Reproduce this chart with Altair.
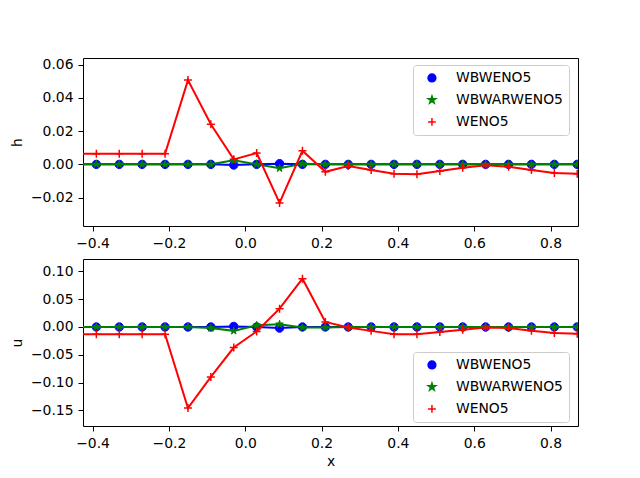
import altair as alt
import pandas as pd

# ---- data ----
x = [-0.45, -0.39, -0.33, -0.27, -0.21, -0.15, -0.09, -0.03, 0.03, 0.09, 0.15, 0.21,
     0.27, 0.33, 0.39, 0.45, 0.51, 0.57, 0.63, 0.69, 0.75, 0.81, 0.87]

series = ["WBWENO5", "WBWARWENO5", "WENO5"]
line_colors = ["blue", "green", "red"]

h_wb = [0, 0, 0, 0, 0, 0, 0, -0.0004, 0, 0.0004, 0, 0,
        0, 0, 0, 0, 0, 0, 0, 0, 0, 0, 0]
h_wbar = [0, 0, 0, 0, 0, 0, 0, 0.0024, 0, -0.0024, 0.0003, 0,
          0, 0, 0, 0, 0, 0, 0, 0, 0, 0, 0]
h_weno = [0.0064, 0.0064, 0.0064, 0.0064, 0.0064, 0.0507, 0.0241, 0.003, 0.0068, -0.0232, 0.0082, -0.0045,
          -0.001, -0.0034, -0.0056, -0.006, -0.004, -0.002, -0.0006, -0.0014, -0.0034, -0.0052, -0.0056]

u_wb = [0, 0, 0, 0, 0, 0, 0, 0.001, 0, -0.002, 0, 0,
        0, 0, 0, 0, 0, 0, 0, 0, 0, 0, 0]
u_wbar = [0, 0, 0, 0, 0, 0, -0.002, -0.007, 0.003, 0.005, -0.001, -0.001,
          0, 0, 0, 0, 0, 0, 0, 0, 0, 0, 0]
u_weno = [-0.013, -0.013, -0.013, -0.013, -0.013, -0.146, -0.090, -0.037, -0.008, 0.033, 0.087, 0.009,
          -0.001, -0.007, -0.013, -0.013, -0.009, -0.005, -0.001, -0.002, -0.007, -0.011, -0.012]

x_ticks = [-0.4, -0.2, 0.0, 0.2, 0.4, 0.6, 0.8]
h_ticks = [-0.02, 0.0, 0.02, 0.04, 0.06]
u_ticks = [-0.15, -0.10, -0.05, 0.0, 0.05, 0.10]

rows = []
for name, hv, uv in zip(series, [h_wb, h_wbar, h_weno], [u_wb, u_wbar, u_weno]):
    for xi, a, b in zip(x, hv, uv):
        rows.append({"x": xi, "series": name, "h": a, "u": b})
df = pd.DataFrame(rows)

STAR = ("M0,-1L0.225,-0.309L0.951,-0.309L0.363,0.118L0.588,0.809L0,0.382"
        "L-0.588,0.809L-0.363,0.118L-0.951,-0.309L-0.225,-0.309Z")
PLUS = "M-1,0L1,0M0,-1L0,1"

FONT = "DejaVu Sans"
FS = 13.9
W = 495


def panel(field, ydom, yticks, height, legend_y, xtitle):
    xenc = alt.X("x:Q",
                 scale=alt.Scale(domain=[-0.425, 0.872], nice=False, zero=False),
                 axis=alt.Axis(values=x_ticks, format=".1f", title=xtitle, titlePadding=5))
    yenc = alt.Y(f"{field}:Q",
                 scale=alt.Scale(domain=ydom, nice=False, zero=False),
                 axis=alt.Axis(values=yticks, format=".2f", title=field,
                               titleX=-59, titleY=height / 2))
    leg = alt.Legend(title=None, orient="none", legendX=330, legendY=legend_y)
    fill = alt.Fill("series:N", scale=alt.Scale(domain=series, range=["blue", "green", "transparent"]), legend=leg)
    stroke = alt.Stroke("series:N", scale=alt.Scale(domain=series, range=["blue", "green", "red"]), legend=leg)
    shape = alt.Shape("series:N", scale=alt.Scale(domain=series, range=["circle", STAR, PLUS]), legend=leg)
    sizes = [70, 62, 64]
    sws = [1, 1, 1.5]
    layers = []
    for name, col, sz, sw in zip(series, line_colors, sizes, sws):
        base = alt.Chart(df).transform_filter(alt.datum.series == name)
        layers.append(base.mark_line(color=col, strokeWidth=2, clip=True).encode(x=xenc, y=yenc))
        layers.append(base.mark_point(size=sz, strokeWidth=sw, opacity=1, clip=True).encode(
            x=xenc, y=yenc, fill=fill, stroke=stroke, shape=shape))
    return alt.layer(*layers).properties(width=W, height=height)


top = panel("h", [-0.0371, 0.064], h_ticks, 168, 7, "")
bottom = panel("u", [-0.1783, 0.1224], u_ticks, 167, 93, "x")

chart = alt.vconcat(top, bottom, spacing=33, bounds="flush").resolve_scale(
    fill="independent", stroke="independent", shape="independent"
).resolve_legend(
    fill="independent", stroke="independent", shape="independent"
).properties(
    padding={"left": 1, "top": 49, "right": 5, "bottom": 5},
    background="white",
).configure_view(
    stroke="black", strokeWidth=1, fill="white"
).configure_axis(
    domain=False, grid=False, tickColor="black", tickSize=5, tickWidth=1,
    labelFont=FONT, labelFontSize=FS, labelColor="black", labelPadding=5,
    titleFont=FONT, titleFontSize=FS, titleFontWeight="normal", titleColor="black",
).configure_legend(
    fillColor="white", strokeColor="#cccccc", cornerRadius=3, padding=6,
    symbolOffset=6, labelOffset=17, rowPadding=7, symbolSize=60, symbolStrokeWidth=1.5,
    symbolOpacity=1, labelFont=FONT, labelFontSize=FS, labelColor="black",
)

chart.save("out.html", embed_options={"renderer": "svg", "actions": False})
